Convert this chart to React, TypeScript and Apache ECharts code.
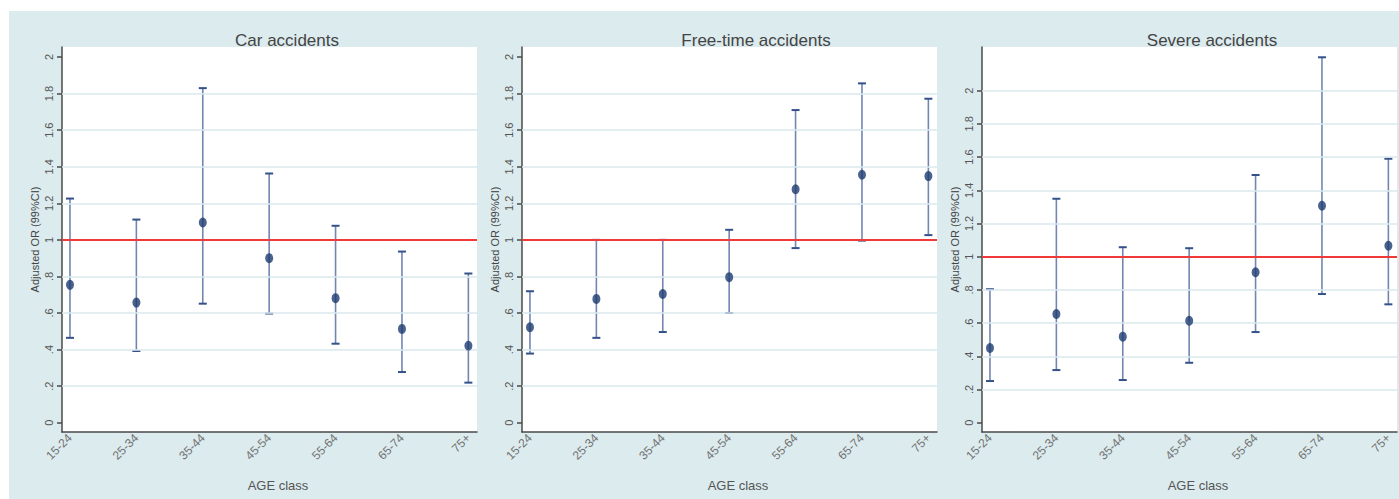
import React, { useEffect, useRef } from "react";
import * as echarts from "echarts";

const categories = ["15-24", "25-34", "35-44", "45-54", "55-64", "65-74", "75+"];

const carOR = [0.754, 0.657, 1.095, 0.9, 0.681, 0.513, 0.421];
const carLo = [0.464, 0.392, 0.651, 0.597, 0.432, 0.277, 0.219];
const carHi = [1.226, 1.111, 1.83, 1.363, 1.077, 0.936, 0.816];

const freeOR = [0.522, 0.677, 0.704, 0.796, 1.277, 1.356, 1.349];
const freeLo = [0.378, 0.464, 0.496, 0.6, 0.955, 0.996, 1.026];
const freeHi = [0.719, 1.0, 1.0, 1.055, 1.71, 1.856, 1.772];

const sevOR = [0.45, 0.655, 0.518, 0.614, 0.906, 1.307, 1.066];
const sevLo = [0.251, 0.317, 0.257, 0.361, 0.546, 0.775, 0.713];
const sevHi = [0.804, 1.349, 1.057, 1.051, 1.492, 2.201, 1.59];

const yTicks = [0, 0.2, 0.4, 0.6, 0.8, 1, 1.2, 1.4, 1.6, 1.8, 2];
const grid12 = [0.2, 0.4, 0.6, 0.8, 1.2, 1.4, 1.6, 1.8];
const grid3 = [0.2, 0.4, 0.6, 0.8, 1.2, 1.4, 1.6, 1.8, 2];

const titles = ["Car accidents", "Free-time accidents", "Severe accidents"];
const yTitle = "Adjusted OR (99%CI)";
const xTitle = "AGE class";

const FONT = "'Liberation Sans', Arial, sans-serif";

export default function App() {
  const ref = useRef<HTMLDivElement>(null);
  useEffect(() => {
    if (!ref.current) return;
    const chart = echarts.init(ref.current, undefined, { renderer: "svg" });

    const panels = [
      { or: carOR, lo: carLo, hi: carHi, left: 62, ymin: -0.051, ymax: 2.055, grid: grid12, titleX: 287, xTitleX: 278 },
      { or: freeOR, lo: freeLo, hi: freeHi, left: 522, ymin: -0.051, ymax: 2.055, grid: grid12, titleX: 756, xTitleX: 738 },
      { or: sevOR, lo: sevLo, hi: sevHi, left: 982, ymin: -0.056, ymax: 2.263, grid: grid3, titleX: 1212, xTitleX: 1198 },
    ];

    const fmtY = (v: number) => {
      const r = Math.round(v * 10) / 10;
      if (r === 0) return "0";
      if (r < 1) return String(r).replace("0.", ".");
      return String(r);
    };

    const grids: any[] = [];
    const xAxes: any[] = [];
    const yAxes: any[] = [];
    const series: any[] = [];
    const graphics: any[] = [
      { type: "rect", shape: { x: 0, y: 0, width: 1399, height: 11 }, style: { fill: "#ffffff" } },
      { type: "rect", shape: { x: 0, y: 0, width: 9, height: 499 }, style: { fill: "#ffffff" } },
    ];

    panels.forEach((p, i) => {
      grids.push({
        left: p.left,
        top: 47,
        width: 415,
        height: 385,
        show: true,
        backgroundColor: "#ffffff",
        borderWidth: 0,
      });
      xAxes.push({
        type: "value",
        gridIndex: i,
        min: -0.12,
        max: 6.13,
        axisLine: { show: true, onZero: false, lineStyle: { color: "#4a4a4a", width: 1.5 } },
        axisTick: { show: false, customValues: [0, 1, 2, 3, 4, 5, 6] },
        splitLine: { show: false },
        axisLabel: {
          customValues: [0, 1, 2, 3, 4, 5, 6],
          formatter: (v: number) => categories[Math.round(v)] ?? "",
          rotate: 45,
          margin: 4,
          color: "#727272",
          fontSize: 12,
          fontFamily: FONT,
        },
      });
      yAxes.push({
        type: "value",
        gridIndex: i,
        min: p.ymin,
        max: p.ymax,
        name: yTitle,
        nameLocation: "middle",
        nameRotate: 90,
        nameGap: 22,
        nameTextStyle: { color: "#444", fontSize: 11, fontFamily: FONT },
        axisLine: { show: true, onZero: false, lineStyle: { color: "#4a4a4a", width: 1.5 } },
        axisTick: { show: true, length: 5, customValues: yTicks, lineStyle: { color: "#4a4a4a", width: 1.5 } },
        splitLine: { show: false },
        axisLabel: {
          customValues: yTicks,
          formatter: fmtY,
          rotate: 90,
          margin: 8,
          color: "#555",
          fontSize: 11,
          fontFamily: FONT,
        },
      });

      // gridlines
      series.push({
        type: "scatter",
        xAxisIndex: i,
        yAxisIndex: i,
        data: p.or.map((v, k) => [k, v]),
        symbolSize: 0,
        silent: true,
        z: 1,
        markLine: {
          silent: true,
          symbol: "none",
          label: { show: false },
          lineStyle: { color: "#dae8ee", width: 1.5, type: "solid" },
          data: p.grid.map((g) => ({ yAxis: g })),
        },
      });
      // error bars
      series.push({
        type: "custom",
        xAxisIndex: i,
        yAxisIndex: i,
        z: 3,
        silent: true,
        data: p.or.map((_, k) => [k, p.lo[k], p.hi[k]]),
        renderItem: (params: any, api: any) => {
          const x = api.value(0);
          const lo = api.coord([x, api.value(1)]);
          const hi = api.coord([x, api.value(2)]);
          const w = 4;
          return {
            type: "group",
            children: [
              { type: "line", shape: { x1: lo[0], y1: lo[1], x2: hi[0], y2: hi[1] }, style: { stroke: "#7286b0", lineWidth: 1.6 } },
              { type: "line", shape: { x1: lo[0] - w, y1: lo[1], x2: lo[0] + w, y2: lo[1] }, style: { stroke: "#34518a", lineWidth: 2 } },
              { type: "line", shape: { x1: hi[0] - w, y1: hi[1], x2: hi[0] + w, y2: hi[1] }, style: { stroke: "#34518a", lineWidth: 2 } },
            ],
          };
        },
      });
      // red reference line
      series.push({
        type: "scatter",
        xAxisIndex: i,
        yAxisIndex: i,
        data: [],
        symbolSize: 0,
        silent: true,
        z: 4,
        markLine: {
          silent: true,
          symbol: "none",
          label: { show: false },
          lineStyle: { color: "#f03a3a", width: 2, type: "solid" },
          data: [{ yAxis: 1 }],
        },
      });
      // points
      series.push({
        type: "scatter",
        xAxisIndex: i,
        yAxisIndex: i,
        z: 5,
        data: p.or.map((v, k) => [k, v]),
        symbol: "circle",
        symbolSize: [8, 10],
        itemStyle: { color: "#1d3b70" },
      });

      graphics.push({
        type: "text",
        x: p.titleX,
        y: 40,
        style: { text: titles[i], fill: "#444", font: `17px ${FONT}`, textAlign: "center", textVerticalAlign: "middle" },
      });
      graphics.push({
        type: "text",
        x: p.xTitleX,
        y: 485,
        style: { text: xTitle, fill: "#555", font: `13px ${FONT}`, textAlign: "center", textVerticalAlign: "middle" },
      });
    });

    chart.setOption({
      animation: false,
      backgroundColor: "#dcebee",
      grid: grids,
      xAxis: xAxes,
      yAxis: yAxes,
      series,
      graphic: graphics,
    });
    return () => chart.dispose();
  }, []);
  return <div ref={ref} style={{ position: "absolute", left: 0, top: 0, width: 1399, height: 499 }} />;
}
